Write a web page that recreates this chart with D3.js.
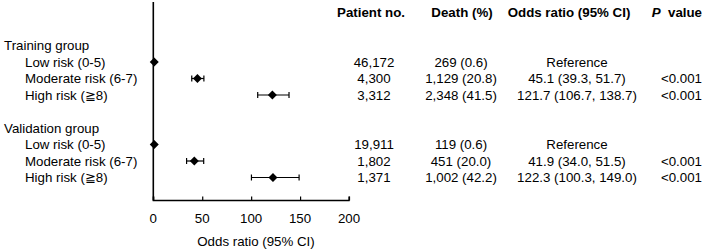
<!DOCTYPE html>
<html><head><meta charset="utf-8">
<script src="https://cdn.jsdelivr.net/npm/d3@7/dist/d3.min.js"></script>
<style>body{margin:0;background:#fff}svg{display:block}text{font-family:"Liberation Sans",Arial,sans-serif;fill:#000}</style>
</head><body><svg id="c" width="707" height="250"></svg>
<script>
const groups = ["Training group", "Validation group"];
const categories = ["Low risk (0-5)", "Moderate risk (6-7)", "High risk (\u22678)"];
const patients = [["46,172", "4,300", "3,312"], ["19,911", "1,802", "1,371"]];
const deaths = [["269 (0.6)", "1,129 (20.8)", "2,348 (41.5)"], ["119 (0.6)", "451 (20.0)", "1,002 (42.2)"]];
const oddsRatio = [[1, 45.1, 121.7], [1, 41.9, 122.3]];
const ciLow = [[null, 39.3, 106.7], [null, 34.0, 100.3]];
const ciHigh = [[null, 51.7, 138.7], [null, 51.5, 149.0]];
const orText = [["Reference", "45.1 (39.3, 51.7)", "121.7 (106.7, 138.7)"], ["Reference", "41.9 (34.0, 51.5)", "122.3 (100.3, 149.0)"]];
const pValues = [["", "<0.001", "<0.001"], ["", "<0.001", "<0.001"]];
const xTicks = [0, 50, 100, 150, 200];
const headers = ["Patient no.", "Death (%)", "Odds ratio (95% CI)"];

const svg = d3.select("#c");
const x = d3.scaleLinear().domain([0, 200]).range([153.3, 349]);
const y = d3.scaleLinear().domain([0, 8]).range([45.5, 177.5]);
const axisY = 200.5;
const fs = 13.3;

const rows = [];
groups.forEach((g, gi) => {
  rows.push({type: "group", label: g, idx: gi * 5});
  categories.forEach((c, ci) => rows.push({type: "cat", label: c, idx: gi * 5 + 1 + ci, gi, ci}));
});

svg.selectAll("text.lab").data(rows).join("text")
  .attr("x", d => d.type === "group" ? 4 : 25)
  .attr("y", d => y(d.idx)).attr("dy", "0.36em")
  .style("font-size", fs + "px").text(d => d.label);

const colX = [374, 461, 577];
const headX = [371, 462, 569];
headers.forEach((h, i) => {
  svg.append("text").attr("x", headX[i]).attr("y", 12).attr("dy", "0.36em")
    .attr("text-anchor", "middle").style("font-size", fs + "px").style("font-weight", "bold").text(h);
});
const pv = svg.append("text").attr("x", 702).attr("y", 12).attr("dy", "0.36em").attr("text-anchor", "end")
  .style("font-size", fs + "px").style("font-weight", "bold");
pv.append("tspan").style("font-style", "italic").text("P");
pv.append("tspan").text("\u00a0 value");

const cats = rows.filter(r => r.type === "cat");
svg.selectAll("text.pat").data(cats).join("text").attr("x", colX[0]).attr("y", d => y(d.idx)).attr("dy", "0.36em")
  .attr("text-anchor", "middle").style("font-size", fs + "px").text(d => patients[d.gi][d.ci]);
svg.selectAll("text.dth").data(cats).join("text").attr("x", colX[1]).attr("y", d => y(d.idx)).attr("dy", "0.36em")
  .attr("text-anchor", "middle").style("font-size", fs + "px").text(d => deaths[d.gi][d.ci]);
svg.selectAll("text.ort").data(cats).join("text").attr("x", colX[2]).attr("y", d => y(d.idx)).attr("dy", "0.36em")
  .attr("text-anchor", "middle").style("font-size", fs + "px").text(d => orText[d.gi][d.ci]);
svg.selectAll("text.pvl").data(cats).join("text").attr("x", 702).attr("y", d => y(d.idx)).attr("dy", "0.36em")
  .attr("text-anchor", "end").style("font-size", fs + "px").text(d => pValues[d.gi][d.ci]);

svg.append("line").attr("x1", x(0)).attr("x2", x(0)).attr("y1", 2).attr("y2", axisY)
  .attr("stroke", "#000").attr("stroke-width", 1.6);

const axis = d3.axisTop(x).tickValues(xTicks).tickSize(4).tickFormat("");
const ag = svg.append("g").attr("transform", `translate(0,${axisY})`).call(axis);
ag.select(".domain").attr("d", `M${x(0)},-4V0H${x(200)}V-4`).attr("stroke", "#000").attr("stroke-width", 1.3);
ag.selectAll(".tick line").attr("stroke", "#000").attr("stroke-width", 1.2);
svg.selectAll("text.tk").data(xTicks).join("text").attr("x", d => x(d)).attr("y", 218.5).attr("dy", "0.36em")
  .attr("text-anchor", "middle").style("font-size", fs + "px").text(d => d);
svg.append("text").attr("x", 256).attr("y", 241).attr("dy", "0.36em").attr("text-anchor", "middle")
  .style("font-size", fs + "px").text("Odds ratio (95% CI)");

const ci = cats.filter(d => ciLow[d.gi][d.ci] != null);
const eg = svg.selectAll("g.ci").data(ci).join("g").attr("stroke", "#000").attr("stroke-width", 1.2);
eg.append("line").attr("x1", d => x(ciLow[d.gi][d.ci])).attr("x2", d => x(ciHigh[d.gi][d.ci]))
  .attr("y1", d => y(d.idx)).attr("y2", d => y(d.idx));
eg.append("line").attr("x1", d => x(ciLow[d.gi][d.ci])).attr("x2", d => x(ciLow[d.gi][d.ci]))
  .attr("y1", d => y(d.idx) - 3).attr("y2", d => y(d.idx) + 3);
eg.append("line").attr("x1", d => x(ciHigh[d.gi][d.ci])).attr("x2", d => x(ciHigh[d.gi][d.ci]))
  .attr("y1", d => y(d.idx) - 3).attr("y2", d => y(d.idx) + 3);

svg.selectAll("path.dm").data(cats).join("path")
  .attr("transform", d => `translate(${x(oddsRatio[d.gi][d.ci])},${y(d.idx)})`)
  .attr("d", "M0,-4.5L4.5,0L0,4.5L-4.5,0Z").attr("fill", "#000");
</script></body></html>
